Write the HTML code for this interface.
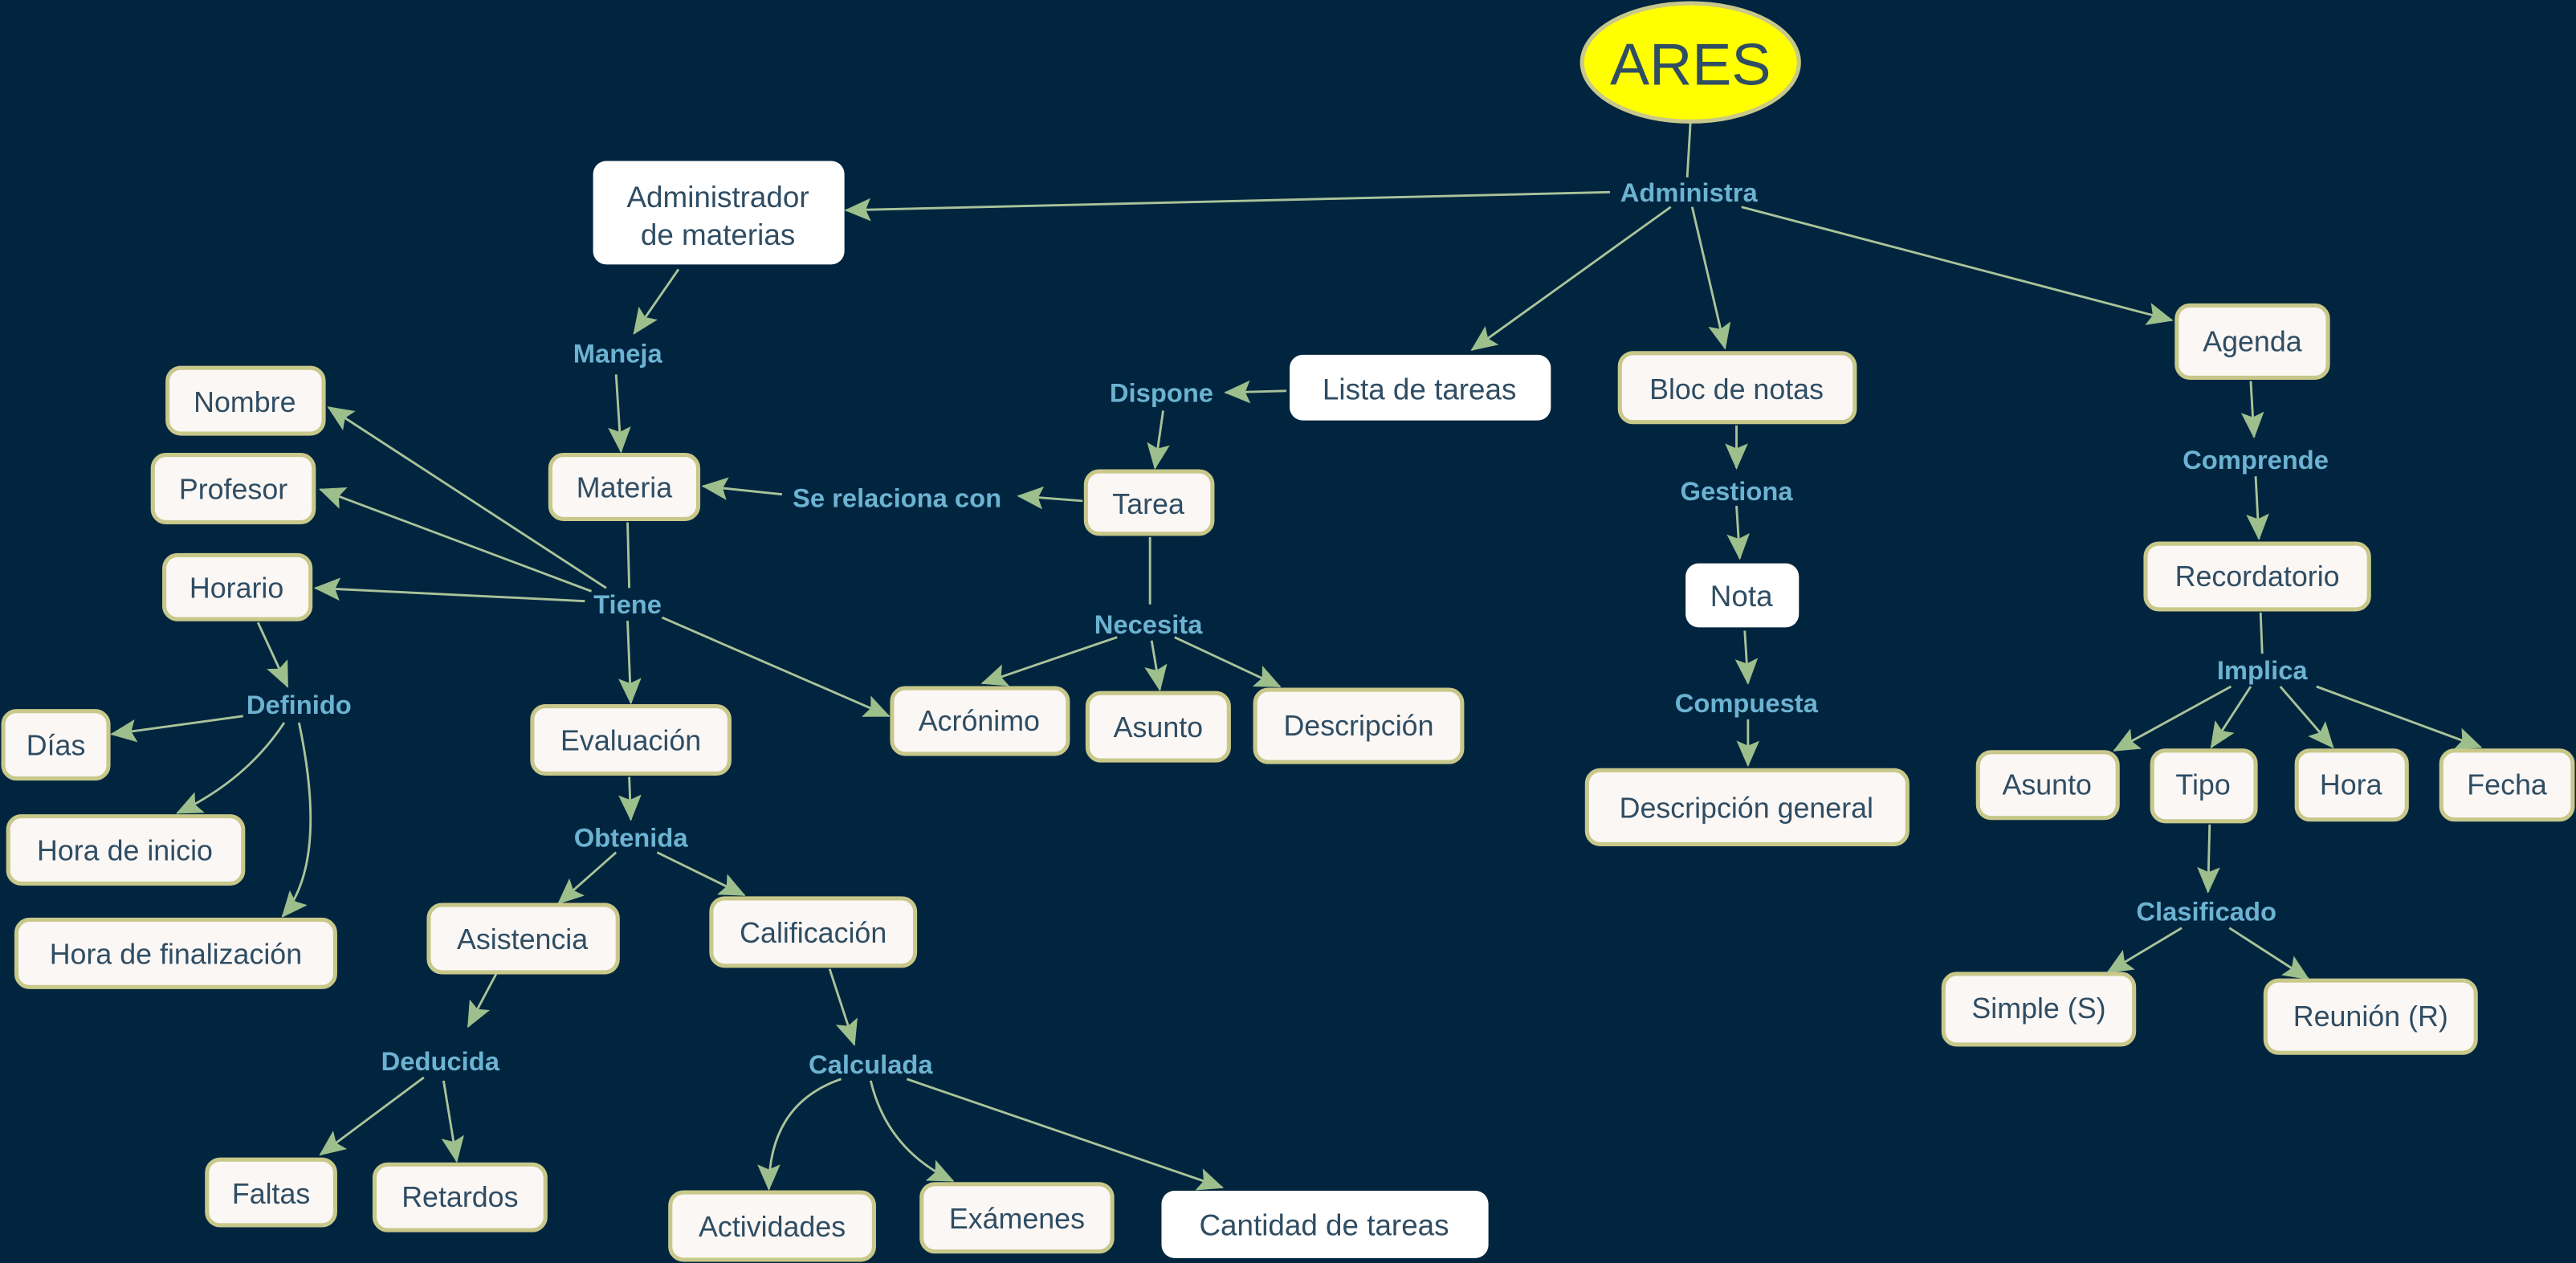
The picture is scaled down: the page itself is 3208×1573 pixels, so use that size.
<!DOCTYPE html>
<html><head><meta charset="utf-8"><style>
html,body{margin:0;padding:0;background:#02253f;}
svg{display:block;}
.n{fill:#fbf7f5;stroke:#c8c88a;stroke-width:2.5;}
.w{fill:#ffffff;stroke:none;}
.t{font-family:"Liberation Sans",sans-serif;font-size:17.5px;fill:#2f4d63;text-anchor:middle;dominant-baseline:central;}
.l{font-family:"Liberation Sans",sans-serif;font-size:16px;font-weight:bold;fill:#6cb3d2;text-anchor:middle;dominant-baseline:central;}
.c{stroke:#a9c49a;stroke-width:1.4;fill:none;}
</style></head><body>
<svg width="3208" height="1573" viewBox="0 0 1568 769" preserveAspectRatio="none" xmlns="http://www.w3.org/2000/svg">
<defs><marker id="a" markerUnits="userSpaceOnUse" markerWidth="16" markerHeight="14" refX="15" refY="7" orient="auto"><path d="M0,0 L16,7 L0,14 L3,7 Z" fill="#9cbf8c"/></marker></defs>
<rect width="1568" height="769" fill="#02253f"/>
<g class="c">
<line x1="1029" y1="74" x2="1027" y2="108"/>
<line x1="980" y1="117" x2="515" y2="128" marker-end="url(#a)"/>
<line x1="1017" y1="126" x2="896" y2="213" marker-end="url(#a)"/>
<line x1="1030" y1="126" x2="1050" y2="212" marker-end="url(#a)"/>
<line x1="1060" y1="126" x2="1322" y2="195" marker-end="url(#a)"/>
<line x1="413" y1="164" x2="386" y2="203" marker-end="url(#a)"/>
<line x1="375" y1="228" x2="378" y2="275" marker-end="url(#a)"/>
<line x1="783" y1="238" x2="746" y2="239" marker-end="url(#a)"/>
<line x1="708" y1="250" x2="703" y2="285" marker-end="url(#a)"/>
<line x1="659" y1="305" x2="620" y2="302" marker-end="url(#a)"/>
<line x1="476" y1="301" x2="428" y2="296" marker-end="url(#a)"/>
<line x1="382" y1="318" x2="383" y2="358"/>
<line x1="369" y1="358" x2="200" y2="248" marker-end="url(#a)"/>
<line x1="360" y1="360" x2="195" y2="298" marker-end="url(#a)"/>
<line x1="356" y1="366" x2="192" y2="358" marker-end="url(#a)"/>
<line x1="382" y1="378" x2="384" y2="428" marker-end="url(#a)"/>
<line x1="403" y1="376" x2="541" y2="436" marker-end="url(#a)"/>
<line x1="157" y1="379" x2="175" y2="418" marker-end="url(#a)"/>
<line x1="148" y1="436" x2="68" y2="447" marker-end="url(#a)"/>
<path d="M173,440 Q150,475 108,495" marker-end="url(#a)"/>
<path d="M182,440 Q200,525 172,558" marker-end="url(#a)"/>
<line x1="383" y1="473" x2="384" y2="499" marker-end="url(#a)"/>
<line x1="375" y1="519" x2="340" y2="550" marker-end="url(#a)"/>
<line x1="400" y1="519" x2="453" y2="545" marker-end="url(#a)"/>
<line x1="302" y1="593" x2="285" y2="625" marker-end="url(#a)"/>
<line x1="258" y1="656" x2="195" y2="703" marker-end="url(#a)"/>
<line x1="270" y1="658" x2="278" y2="707" marker-end="url(#a)"/>
<line x1="505" y1="590" x2="520" y2="636" marker-end="url(#a)"/>
<path d="M512,657 Q468,672 468,724" marker-end="url(#a)"/>
<path d="M530,658 Q540,700 580,719" marker-end="url(#a)"/>
<line x1="552" y1="657" x2="744" y2="723" marker-end="url(#a)"/>
<line x1="700" y1="327" x2="700" y2="368"/>
<line x1="680" y1="388" x2="598" y2="416" marker-end="url(#a)"/>
<line x1="701" y1="390" x2="706" y2="420" marker-end="url(#a)"/>
<line x1="715" y1="388" x2="779" y2="418" marker-end="url(#a)"/>
<line x1="1057" y1="259" x2="1057" y2="285" marker-end="url(#a)"/>
<line x1="1057" y1="308" x2="1059" y2="340" marker-end="url(#a)"/>
<line x1="1062" y1="384" x2="1064" y2="416" marker-end="url(#a)"/>
<line x1="1064" y1="438" x2="1064" y2="466" marker-end="url(#a)"/>
<line x1="1370" y1="232" x2="1372" y2="266" marker-end="url(#a)"/>
<line x1="1373" y1="290" x2="1375" y2="328" marker-end="url(#a)"/>
<line x1="1376" y1="373" x2="1377" y2="398"/>
<line x1="1358" y1="418" x2="1287" y2="457" marker-end="url(#a)"/>
<line x1="1370" y1="418" x2="1346" y2="455" marker-end="url(#a)"/>
<line x1="1388" y1="418" x2="1420" y2="455" marker-end="url(#a)"/>
<line x1="1410" y1="418" x2="1510" y2="455" marker-end="url(#a)"/>
<line x1="1345" y1="502" x2="1344" y2="543" marker-end="url(#a)"/>
<line x1="1328" y1="565" x2="1283" y2="592" marker-end="url(#a)"/>
<line x1="1357" y1="565" x2="1405" y2="596" marker-end="url(#a)"/>
</g>
<ellipse cx="1029" cy="38" rx="66" ry="36" fill="#ffff00" stroke="#c8c88a" stroke-width="2.5"/>
<text x="1029" y="39" class="t" style="font-size:36px">ARES</text>
<rect class="w" x="361" y="98" width="153" height="63" rx="8"/>
<text class="t" x="437" y="120" style="font-size:18px">Administrador</text>
<text class="t" x="437" y="143" style="font-size:18px">de materias</text>
<rect class="w" x="785" y="216" width="159" height="40" rx="8"/><text class="t" x="864" y="237" style="font-size:18px">Lista de tareas</text>
<rect class="w" x="1026" y="343" width="69" height="39" rx="8"/><text class="t" x="1060" y="363" style="font-size:18px">Nota</text>
<rect class="w" x="707" y="725" width="199" height="41" rx="8"/><text class="t" x="806" y="746" style="font-size:18px">Cantidad de tareas</text>
<g>
<rect class="n" x="335" y="277" width="90" height="39" rx="8"/><text class="t" x="380" y="297">Materia</text>
<rect class="n" x="102" y="224" width="95" height="40" rx="8"/><text class="t" x="149" y="245">Nombre</text>
<rect class="n" x="93" y="277" width="98" height="41" rx="8"/><text class="t" x="142" y="298">Profesor</text>
<rect class="n" x="100" y="338" width="89" height="39" rx="8"/><text class="t" x="144" y="358">Horario</text>
<rect class="n" x="2" y="433" width="64" height="41" rx="8"/><text class="t" x="34" y="454">Días</text>
<rect class="n" x="5" y="497" width="143" height="41" rx="8"/><text class="t" x="76" y="518">Hora de inicio</text>
<rect class="n" x="10" y="560" width="194" height="41" rx="8"/><text class="t" x="107" y="581">Hora de finalización</text>
<rect class="n" x="324" y="430" width="120" height="41" rx="8"/><text class="t" x="384" y="451">Evaluación</text>
<rect class="n" x="261" y="551" width="115" height="41" rx="8"/><text class="t" x="318" y="572">Asistencia</text>
<rect class="n" x="433" y="547" width="124" height="41" rx="8"/><text class="t" x="495" y="568">Calificación</text>
<rect class="n" x="126" y="706" width="78" height="40" rx="8"/><text class="t" x="165" y="727">Faltas</text>
<rect class="n" x="228" y="709" width="104" height="40" rx="8"/><text class="t" x="280" y="729">Retardos</text>
<rect class="n" x="408" y="726" width="124" height="41" rx="8"/><text class="t" x="470" y="747">Actividades</text>
<rect class="n" x="561" y="721" width="116" height="41" rx="8"/><text class="t" x="619" y="742">Exámenes</text>
<rect class="n" x="543" y="419" width="107" height="40" rx="8"/><text class="t" x="596" y="439">Acrónimo</text>
<rect class="n" x="662" y="422" width="86" height="41" rx="8"/><text class="t" x="705" y="443">Asunto</text>
<rect class="n" x="764" y="420" width="126" height="44" rx="8"/><text class="t" x="827" y="442">Descripción</text>
<rect class="n" x="661" y="287" width="77" height="38" rx="8"/><text class="t" x="699" y="307">Tarea</text>
<rect class="n" x="986" y="215" width="143" height="42" rx="8"/><text class="t" x="1057" y="237">Bloc de notas</text>
<rect class="n" x="966" y="469" width="195" height="45" rx="8"/><text class="t" x="1063" y="492">Descripción general</text>
<rect class="n" x="1325" y="186" width="92" height="44" rx="8"/><text class="t" x="1371" y="208">Agenda</text>
<rect class="n" x="1306" y="331" width="136" height="40" rx="8"/><text class="t" x="1374" y="351">Recordatorio</text>
<rect class="n" x="1204" y="458" width="85" height="40" rx="8"/><text class="t" x="1246" y="478">Asunto</text>
<rect class="n" x="1310" y="457" width="63" height="43" rx="8"/><text class="t" x="1341" y="478">Tipo</text>
<rect class="n" x="1398" y="457" width="67" height="42" rx="8"/><text class="t" x="1431" y="478">Hora</text>
<rect class="n" x="1486" y="457" width="80" height="42" rx="8"/><text class="t" x="1526" y="478">Fecha</text>
<rect class="n" x="1183" y="593" width="116" height="43" rx="8"/><text class="t" x="1241" y="614">Simple (S)</text>
<rect class="n" x="1379" y="597" width="128" height="44" rx="8"/><text class="t" x="1443" y="619">Reunión (R)</text>
</g>
<g>
<text class="l" x="1028" y="117">Administra</text>
<text class="l" x="376" y="215">Maneja</text>
<text class="l" x="382" y="368">Tiene</text>
<text class="l" x="182" y="429">Definido</text>
<text class="l" x="384" y="510">Obtenida</text>
<text class="l" x="268" y="646">Deducida</text>
<text class="l" x="530" y="648">Calculada</text>
<text class="l" x="546" y="303">Se relaciona con</text>
<text class="l" x="699" y="380">Necesita</text>
<text class="l" x="707" y="239">Dispone</text>
<text class="l" x="1057" y="299">Gestiona</text>
<text class="l" x="1063" y="428">Compuesta</text>
<text class="l" x="1373" y="280">Comprende</text>
<text class="l" x="1377" y="408">Implica</text>
<text class="l" x="1343" y="555">Clasificado</text>
</g>
</svg>
</body></html>
